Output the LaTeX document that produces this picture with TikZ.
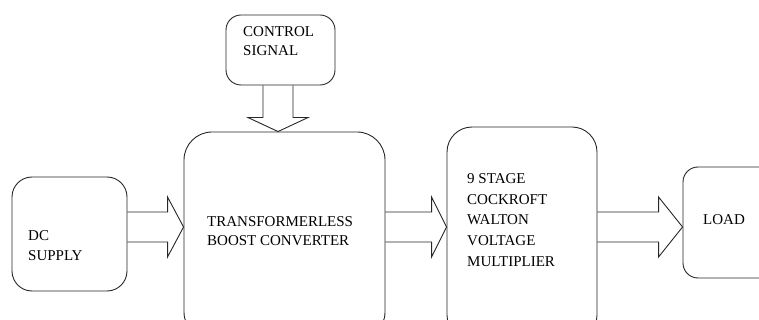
\documentclass[tikz,border=0pt]{standalone}
\usepackage{fontspec}
\setmainfont{Liberation Serif}
\usetikzlibrary{calc}
\newcommand\blkarrowh[3]{%
  \draw[blk] let \p1=(#1), \p2=(#2) in
    (\x1,{\y1+15pt}) -- ({\x2-#3},{\y1+15pt}) -- ({\x2-#3},{\y1+30pt}) -- (\x2,\y1)
    -- ({\x2-#3},{\y1-30pt}) -- ({\x2-#3},{\y1-15pt}) -- (\x1,{\y1-15pt});}
\newcommand\blkarrowv[3]{%
  \draw[blk] let \p1=(#1), \p2=(#2) in
    ({\x1-15pt},\y1) -- ({\x1-15pt},{\y2+#3}) -- ({\x1-30pt},{\y2+#3}) -- (\x1,\y2)
    -- ({\x1+30pt},{\y2+#3}) -- ({\x1+15pt},{\y2+#3}) -- ({\x1+15pt},\y1);}
\begin{document}
\begin{tikzpicture}[x=1pt,y=-1pt,
  box/.style={draw=black!85, line width=0.9pt, rectangle, inner sep=0pt},
  blk/.style={draw=black!85, line width=0.9pt, line join=miter},
  lbl/.style={font=\fontsize{15}{20}\selectfont, inner sep=0pt, anchor=base west, align=left}]
\useasboundingbox (0,0) rectangle (759,320);
\clip (0,0) rectangle (759,320);
% boxes
\node[box, rounded corners=20pt, minimum width=115pt, minimum height=114pt] (dc) at (69.5,234) {};
\node[box, rounded corners=15pt, minimum width=109pt, minimum height=70pt] (control) at (280.5,50) {};
\node[box, rounded corners=28pt, minimum width=201pt, minimum height=208pt] (boost) at (284.5,236) {};
\node[box, rounded corners=25pt, minimum width=150pt, minimum height=213pt] (cw) at (522,233.5) {};
\node[box, rounded corners=15pt, minimum width=117pt, minimum height=111pt] (load) at (741.5,222.5) {};
% labels
\node[lbl] (tcontrol1) at (243,37) {CONTROL};
\node[lbl] (tcontrol2) at (243,56) {SIGNAL};
\node[lbl] (tdc1) at (28,240) {DC};
\node[lbl] (tdc2) at (28,260) {SUPPLY};
\node[lbl] (tboost1) at (207,226) {TRANSFORMERLESS};
\node[lbl] (tboost2) at (207,245) {BOOST CONVERTER};
\node[lbl] (tcw1) at (467,184) {9 STAGE};
\node[lbl] (tcw2) at (467,204.5) {COCKROFT};
\node[lbl] (tcw3) at (467,225) {WALTON};
\node[lbl] (tcw4) at (467,245.5) {VOLTAGE};
\node[lbl] (tcw5) at (467,266) {MULTIPLIER};
\node[lbl] (tload) at (703,225) {LOAD};
% block arrows
\coordinate (a1) at ($(dc.east)+(0,-7)$);
\coordinate (a2) at ($(boost.east)+(0,-9)$);
\coordinate (a3) at ($(cw.east)+(0,-6.5)$);
\coordinate (a4) at ($(control.south)+(-2.5,0)$);
\blkarrowh{a1}{boost.west}{16pt}
\blkarrowh{a2}{cw.west}{15pt}
\blkarrowh{a3}{load.west}{24pt}
\blkarrowv{a4}{boost.north}{14pt}
\end{tikzpicture}
\end{document}
